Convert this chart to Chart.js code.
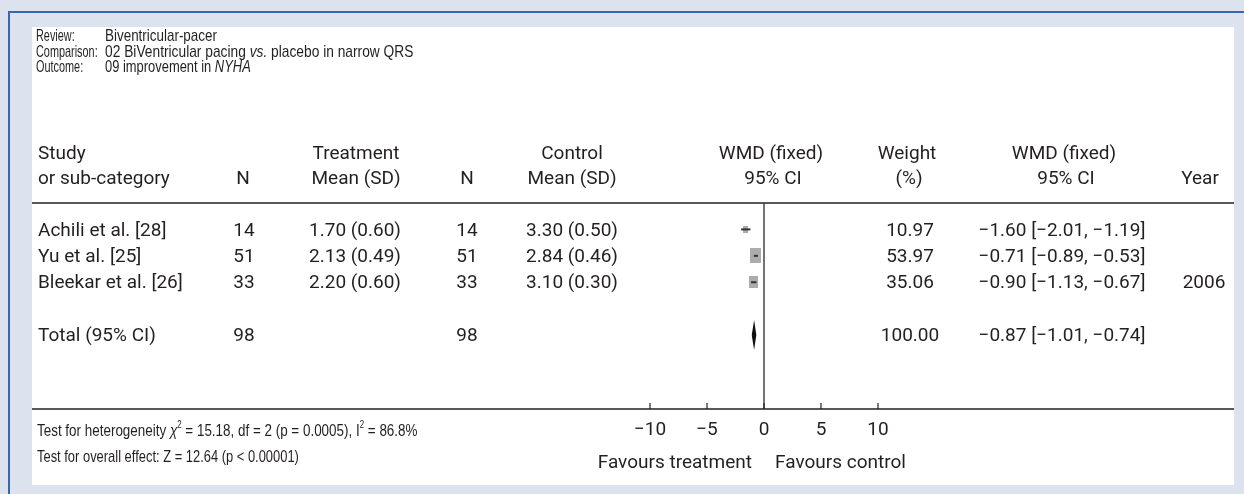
<!DOCTYPE html>
<html>
<head>
<meta charset="utf-8">
<title>Forest plot - improvement in NYHA</title>
<script src="https://cdn.jsdelivr.net/npm/chart.js@4.4.1/dist/chart.umd.min.js"></script>
<style>
  body { margin: 0; background: #dce2ee; }
  .frame { position: relative; width: 1244px; height: 494px; overflow: hidden; background: #dce2ee; }
  .frame .top { position: absolute; left: 9px; top: 11px; right: 0; height: 2px; background: #3568b0; }
  .frame .left { position: absolute; left: 8px; top: 11px; bottom: 0; width: 2px; background: #3568b0; }
  .frame .panel { position: absolute; left: 32px; top: 27px; width: 1202px; height: 458px; background: #fff; }
  .frame canvas { position: absolute; left: 0; top: 0; }
</style>
</head>
<body>
<div class="frame">
  <div class="top"></div>
  <div class="left"></div>
  <div class="panel"></div>
  <div style="position:absolute;left:0;top:0;width:1244px;height:494px;">
    <canvas id="forest"></canvas>
  </div>
</div>
<script>
// study data
const studies = ['Achili et al. [28]', 'Yu et al. [25]', 'Bleekar et al. [26]'];
const nTreat = [14, 51, 33];
const meanTreat = [1.70, 2.13, 2.20];
const sdTreat = [0.60, 0.49, 0.60];
const nCtrl = [14, 51, 33];
const meanCtrl = [3.30, 2.84, 3.10];
const sdCtrl = [0.50, 0.46, 0.30];
const weights = [10.97, 53.97, 35.06];
const wmd = [-1.60, -0.71, -0.90];
const ciLow = [-2.01, -0.89, -1.13];
const ciHigh = [-1.19, -0.53, -0.67];
const years = ['', '', '2006'];

// pooled result
const totalN = [98, 98];
const totalWeight = 100.00;
const totalEffect = [-0.87, -1.01, -0.74]; // estimate, low, high

const xTicks = [-10, -5, 0, 5, 10];

const TOTAL_ROW = 4;       // one blank row after the studies
const DIAMOND_HALF = 0.38; // half height of the diamond, in row units
const INK = '#231f20';
const tableFont = '19px Roboto';

const minus = (s) => s.replace(/-/g, '\u2212');
const ciText = (e, lo, hi) => minus(`${e.toFixed(2)} [${lo.toFixed(2)}, ${hi.toFixed(2)}]`);

// grey boxes, sized by weight
const boxes = weights.map((w) => {
  const c = document.createElement('canvas');
  c.width = Math.round(1.5 * Math.sqrt(w));
  c.height = Math.round(2.0 * Math.sqrt(w));
  const g = c.getContext('2d');
  g.fillStyle = '#acacac';
  g.fillRect(0, 0, c.width, c.height);
  return c;
});

const ciSets = studies.map((s, i) => ({
  label: s,
  data: [{ x: ciLow[i], y: i }, { x: ciHigh[i], y: i }],
  showLine: true,
  borderColor: '#333',
  borderWidth: 2,
  pointRadius: 0,
  order: 1
}));

const diamond = {
  label: 'Total',
  data: [
    { x: totalEffect[1], y: TOTAL_ROW },
    { x: totalEffect[0], y: TOTAL_ROW - DIAMOND_HALF },
    { x: totalEffect[2], y: TOTAL_ROW },
    { x: totalEffect[0], y: TOTAL_ROW + DIAMOND_HALF },
    { x: totalEffect[1], y: TOTAL_ROW }
  ],
  showLine: true,
  fill: 'shape',
  borderColor: '#111',
  backgroundColor: '#111',
  borderWidth: 1.5,
  pointRadius: 0,
  tension: 0,
  order: 1
};

const squares = {
  label: 'Studies',
  data: studies.map((s, i) => ({ x: wmd[i], y: i })),
  showLine: false,
  pointStyle: (ctx) => boxes[ctx.dataIndex],
  order: 2
};

// condensed text: Liberation Sans squeezed horizontally, parts are {t, italic, sup}
function narrowText(ctx, parts, x, y, size, sx) {
  ctx.save();
  ctx.translate(x, y);
  ctx.scale(sx, 1);
  ctx.textAlign = 'left';
  let cx = 0;
  parts.forEach((p) => {
    const fs = p.sup ? 10 : size;
    ctx.font = (p.italic ? 'italic ' : '') + fs + 'px "Liberation Sans", Arial, sans-serif';
    ctx.fillText(p.t, cx, p.sup ? -6 : 0);
    cx += ctx.measureText(p.t).width;
  });
  ctx.restore();
}

const tablePlugin = {
  id: 'tableText',
  afterDraw(chart) {
    const ctx = chart.ctx;
    const xs = chart.scales.x;
    const ys = chart.scales.y;
    const area = chart.chartArea;
    const txt = (s, x, y, align) => {
      ctx.font = tableFont;
      ctx.textAlign = align || 'left';
      ctx.fillText(s, x, y);
    };
    ctx.save();
    ctx.fillStyle = INK;
    ctx.textBaseline = 'middle';

    // review block
    narrowText(ctx, [{ t: 'Review:' }], 36, 36, 17, 0.64);
    narrowText(ctx, [{ t: 'Comparison:' }], 36, 52, 17, 0.64);
    narrowText(ctx, [{ t: 'Outcome:' }], 36, 67, 17, 0.64);
    narrowText(ctx, [{ t: 'Biventricular-pacer' }], 105, 36, 17, 0.79);
    narrowText(ctx, [{ t: '02 BiVentricular pacing ' }, { t: 'vs.', italic: true }, { t: ' placebo in narrow QRS' }], 105, 52, 17, 0.81);
    narrowText(ctx, [{ t: '09 improvement in ' }, { t: 'NYHA', italic: true }], 105, 67, 17, 0.76);

    // column headers
    const h1 = 154, h2 = 179;
    txt('Study', 38, h1);
    txt('or sub-category', 38, h2);
    txt('N', 243, h2, 'center');
    txt('Treatment', 356, h1, 'center');
    txt('Mean (SD)', 356, h2, 'center');
    txt('N', 467, h2, 'center');
    txt('Control', 572, h1, 'center');
    txt('Mean (SD)', 572, h2, 'center');
    txt('WMD (fixed)', 771, h1, 'center');
    txt('95% CI', 773, h2, 'center');
    txt('Weight', 907, h1, 'center');
    txt('(%)', 909, h2, 'center');
    txt('WMD (fixed)', 1064, h1, 'center');
    txt('95% CI', 1066, h2, 'center');
    txt('Year', 1200, h2, 'center');

    // rules
    ctx.strokeStyle = '#222';
    ctx.lineWidth = 1.5;
    ctx.beginPath();
    ctx.moveTo(32, area.top); ctx.lineTo(1234, area.top);
    ctx.moveTo(32, area.bottom); ctx.lineTo(1234, area.bottom);
    ctx.stroke();

    // study rows (text sits a touch low against the marks)
    studies.forEach((s, i) => {
      const y = ys.getPixelForValue(i) + 1.5;
      txt(s, 38, y);
      txt(String(nTreat[i]), 244, y, 'center');
      txt(`${meanTreat[i].toFixed(2)} (${sdTreat[i].toFixed(2)})`, 355, y, 'center');
      txt(String(nCtrl[i]), 467, y, 'center');
      txt(`${meanCtrl[i].toFixed(2)} (${sdCtrl[i].toFixed(2)})`, 572, y, 'center');
      txt(weights[i].toFixed(2), 910, y, 'center');
      txt(ciText(wmd[i], ciLow[i], ciHigh[i]), 1062, y, 'center');
      if (years[i]) txt(years[i], 1204, y, 'center');
    });

    // total row
    const ty = ys.getPixelForValue(TOTAL_ROW) + 1.5;
    txt('Total (95% CI)', 38, ty);
    txt(String(totalN[0]), 244, ty, 'center');
    txt(String(totalN[1]), 467, ty, 'center');
    txt(totalWeight.toFixed(2), 910, ty, 'center');
    txt(ciText(totalEffect[0], totalEffect[1], totalEffect[2]), 1062, ty, 'center');

    // line of no effect
    const x0 = xs.getPixelForValue(0);
    ctx.strokeStyle = '#444';
    ctx.beginPath();
    ctx.moveTo(x0, area.top); ctx.lineTo(x0, area.bottom);
    ctx.stroke();

    // axis ticks pointing up, labels under
    ctx.lineWidth = 1.2;
    ctx.strokeStyle = '#222';
    xTicks.forEach((v) => {
      const px = xs.getPixelForValue(v);
      ctx.beginPath();
      ctx.moveTo(px, area.bottom - 6); ctx.lineTo(px, area.bottom);
      ctx.stroke();
      txt(minus(String(v)), px, 430, 'center');
    });
    txt('Favours treatment', x0 - 12, 463, 'right');
    txt('Favours control', x0 + 11, 463, 'left');

    // test statistics
    narrowText(ctx, [
      { t: 'Test for heterogeneity ' }, { t: '\u03c7', italic: true }, { t: '2', sup: true },
      { t: ' = 15.18, df = 2 (p = 0.0005), I' }, { t: '2', sup: true }, { t: ' = 86.8%' }
    ], 37, 431, 17, 0.79);
    narrowText(ctx, [{ t: 'Test for overall effect: Z = 12.64 (p < 0.00001)' }], 37, 457, 17, 0.76);

    ctx.restore();
  }
};

new Chart(document.getElementById('forest'), {
  type: 'scatter',
  data: { datasets: [...ciSets, diamond, squares] },
  options: {
    responsive: true,
    maintainAspectRatio: false,
    animation: false,
    layout: { padding: { left: 650, right: 366, top: 203, bottom: 85 } },
    plugins: { legend: { display: false }, tooltip: { enabled: false } },
    scales: {
      x: { type: 'linear', min: -10, max: 10, display: false },
      y: { type: 'linear', min: -1, max: 6.8, reverse: true, display: false }
    }
  },
  plugins: [tablePlugin]
});
</script>
</body>
</html>
